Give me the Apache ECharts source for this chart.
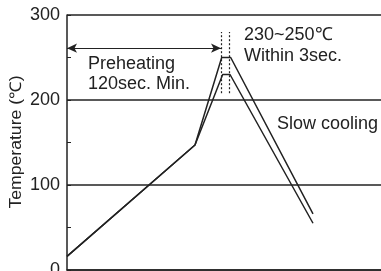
<!DOCTYPE html>
<html>
<head>
<meta charset="utf-8">
<script src="https://cdn.jsdelivr.net/npm/echarts@6/dist/echarts.min.js"></script>
<style>
  html, body { margin: 0; padding: 0; background: #fff; }
  #chart { width: 381px; height: 271px; }
</style>
</head>
<body>
<div id="chart"></div>
<script>
// reflow profile, x = time (arbitrary units), y = temperature
var yTicks = [0, 100, 200, 300]
var timeHigh = [0, 128, 154.7, 163.7, 246]
var tempHigh = [16, 147, 250, 250, 66]
var timeLow = [0, 128, 155.7, 163, 246]
var tempLow = [16, 147, 230, 230, 55]
// preheating arrow and peak window markers
var preheatArrow = [[0, 261], [154, 261]]
var peakWindowX = [154.7, 162.3]
var peakWindowY = [208, 280]
var yTitle = 'Temperature (℃)'

var font = '"Liberation Sans", Arial, sans-serif'
var ink = '#222'

function pairs(xs, ys) {
  return xs.map(function (x, i) { return [x, ys[i]] })
}

var chart = echarts.init(document.getElementById('chart'))
chart.setOption({
  animation: false,
  grid: { left: 67, right: 0, top: 15, bottom: 1, outerBoundsMode: 'none', containLabel: false },
  xAxis: {
    type: 'value',
    min: 0,
    max: 314,
    axisLine: { show: true, lineStyle: { color: ink, width: 1.5 } },
    axisTick: { show: false },
    axisLabel: { show: false },
    splitLine: { show: false }
  },
  yAxis: {
    type: 'value',
    min: yTicks[0],
    max: yTicks[yTicks.length - 1],
    interval: 100,
    axisLine: { show: true, lineStyle: { color: ink, width: 1.5 } },
    axisTick: { show: true, inside: true, length: 4, lineStyle: { color: ink } },
    minorTick: { show: true, splitNumber: 2, length: 4, lineStyle: { color: ink } },
    axisLabel: { fontFamily: font, fontSize: 18, color: ink, margin: 7 },
    splitLine: { show: true, lineStyle: { color: ink, width: 1.5 } }
  },
  series: [
    {
      type: 'line',
      data: pairs(timeHigh, tempHigh),
      symbol: 'none',
      lineStyle: { color: ink, width: 1.5 },
      markLine: {
        silent: true,
        symbol: ['arrow', 'arrow'],
        symbolSize: [7, 10],
        label: { show: false },
        lineStyle: { color: ink, width: 1.2, type: 'solid' },
        data: [[{ coord: preheatArrow[0] }, { coord: preheatArrow[1] }]]
      }
    },
    {
      type: 'line',
      data: pairs(timeLow, tempLow),
      symbol: 'none',
      lineStyle: { color: ink, width: 1.5 },
      markLine: {
        silent: true,
        symbol: 'none',
        label: { show: false },
        lineStyle: { color: ink, width: 1.2, type: [2, 2] },
        data: peakWindowX.map(function (x) {
          return [{ coord: [x, peakWindowY[0]] }, { coord: [x, peakWindowY[1]] }]
        })
      }
    }
  ],
  graphic: [
    // axis title, drawn a bit wide like in the picture
    {
      type: 'text', x: 17, y: 142, rotation: Math.PI / 2, scaleX: 1.1,
      style: { text: yTitle, font: '16px ' + font, fill: ink, align: 'center', verticalAlign: 'middle' }
    },
    { type: 'text', left: 88, top: 55, style: { text: 'Preheating', font: '18px ' + font, fill: ink } },
    { type: 'text', left: 88, top: 75, style: { text: '120sec. Min.', font: '18px ' + font, fill: ink } },
    { type: 'text', left: 244, top: 26, style: { text: '230~250℃', font: '18px ' + font, fill: ink } },
    { type: 'text', left: 244, top: 47, style: { text: 'Within 3sec.', font: '18px ' + font, fill: ink } },
    { type: 'text', left: 277, top: 115, style: { text: 'Slow cooling', font: '18px ' + font, fill: ink } }
  ]
})
</script>
</body>
</html>
